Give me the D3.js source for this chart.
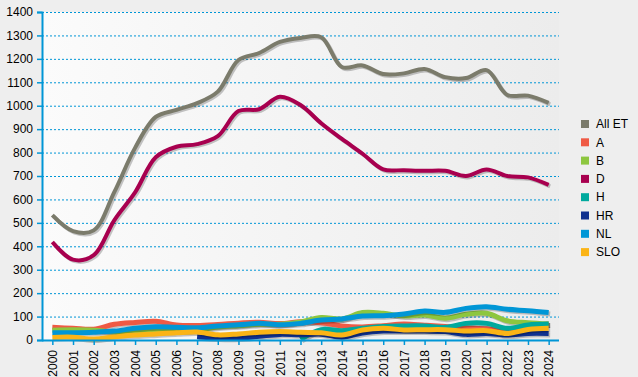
<!DOCTYPE html>
<html>
<head>
<meta charset="utf-8">
<script src="https://cdn.jsdelivr.net/npm/d3@7"></script>
<style>
  body { margin: 0; background: #eeeeee; }
  svg { display: block; font-family: "Liberation Sans", Arial, sans-serif; }
</style>
</head>
<body>
<div id="chart"></div>
<script>
const years = d3.range(2000, 2025).map(String);
const yTicks = d3.range(0, 1401, 100);

const seriesNames = ["All ET", "A", "B", "D", "H", "HR", "NL", "SLO"];
const seriesColors = ["#7b7b6b", "#ef5a45", "#8dc63f", "#a8004f", "#00a99d", "#10318f", "#0096d6", "#fbb416"];

const allET = [533, 465, 468, 632, 820, 952, 982, 1011, 1060, 1195, 1225, 1272, 1289, 1292, 1165, 1172, 1135, 1138, 1157, 1122, 1118, 1152, 1046, 1043, 1012];
const aVals = [54, 50, 46, 67, 75, 80, 64, 62, 66, 72, 76, 70, 78, 74, 60, 56, 61, 68, 63, 58, 52, 48, 40, 58, 68];
const bVals = [42, 44, 42, 34, 36, 38, 38, 43, 55, 61, 67, 67, 77, 96, 90, 117, 114, 102, 107, 93, 110, 114, 82, 74, 68];
const dVals = [418, 343, 362, 512, 630, 780, 825, 836, 870, 977, 985, 1038, 1003, 925, 858, 795, 728, 725, 722, 722, 700, 728, 700, 694, 662];
const hVals = [null, null, null, null, null, null, null, null, null, null, null, null, 3, 44, 40, 50, 58, 60, 60, 54, 71, 71, 50, 64, 68];
const hrVals = [null, null, null, null, null, null, null, 14, 8, 8, 16, 24, 22, 25, 12, 30, 38, 38, 38, 36, 24, 28, 21, 28, 28];
const nlVals = [31, 31, 33, 38, 50, 57, 54, 52, 60, 65, 71, 65, 71, 85, 90, 102, 104, 111, 124, 118, 135, 142, 131, 125, 117];
const sloVals = [11, 12, 4, 13, 21, 26, 31, 34, 22, 26, 33, 36, 33, 31, 21, 43, 50, 43, 44, 44, 38, 40, 28, 45, 50];

const seriesValues = [allET, aVals, bVals, dVals, hVals, hrVals, nlVals, sloVals];

const width = 638, height = 377;
const plotLeft = 42, plotRight = 559, plotTop = 12, plotBottom = 340;

const svg = d3.select("#chart").append("svg")
    .attr("width", width)
    .attr("height", height);

const defs = svg.append("defs");
const grad = defs.append("linearGradient").attr("id", "bg").attr("x1", "0").attr("x2", "1");
grad.append("stop").attr("offset", "0").attr("stop-color", "#fbfbfb");
grad.append("stop").attr("offset", "1").attr("stop-color", "#ececec");

svg.append("rect").attr("width", width).attr("height", height).attr("fill", "#eeeeee");
svg.append("rect")
    .attr("x", plotLeft).attr("y", plotTop)
    .attr("width", plotRight - plotLeft).attr("height", plotBottom - plotTop)
    .attr("fill", "url(#bg)");

const x = d3.scalePoint().domain(years).range([plotLeft, plotRight]).padding(0.5);
const y = d3.scaleLinear().domain([0, 1400]).range([plotBottom, plotTop]);

// grid
svg.append("g").selectAll("line")
    .data(yTicks.filter(d => d > 0))
    .enter().append("line")
    .attr("x1", plotLeft).attr("x2", plotRight)
    .attr("y1", d => y(d) + 0.5).attr("y2", d => y(d) + 0.5)
    .attr("stroke", "#0096d6")
    .attr("stroke-dasharray", "2,2");

// lines
const line = d3.line()
    .defined(d => d.v != null)
    .x(d => x(d.year))
    .y(d => y(d.v))
    .curve(d3.curveCatmullRom.alpha(0.5));

const drawOrder = [1, 2, 4, 5, 6, 7, 3, 0];
drawOrder.forEach(i => {
    const pts = years.map((yr, j) => ({year: yr, v: seriesValues[i][j]}));
    const main = i === 0 || i === 3;
    svg.append("path")
        .attr("d", line(pts))
        .attr("fill", "none")
        .attr("stroke", "rgba(0,0,0,0.22)")
        .attr("stroke-width", main ? 4 : 5)
        .attr("transform", "translate(1.5,1.5)");
    svg.append("path")
        .attr("d", line(pts))
        .attr("fill", "none")
        .attr("stroke", seriesColors[i])
        .attr("stroke-width", main ? 4 : 5)
        .attr("stroke-linejoin", "round");
});

// axes
const yAxis = svg.append("g")
    .attr("transform", `translate(${plotLeft},0)`)
    .call(d3.axisLeft(y).tickValues(yTicks).tickFormat(d3.format("d")).tickSize(5).tickPadding(4));
const xAxis = svg.append("g")
    .attr("transform", `translate(0,${plotBottom})`)
    .call(d3.axisBottom(x).tickSize(5).tickSizeOuter(0));

[yAxis, xAxis].forEach(g => {
    g.select(".domain").attr("stroke", "#0096d6").attr("stroke-width", 2);
    g.selectAll(".tick line").attr("stroke", "#0096d6").attr("stroke-width", 1.5);
    g.selectAll("text").attr("fill", "#000").style("font-size", "12px");
});
xAxis.select(".domain").attr("d", `M${plotLeft},0.5H${plotRight}`);

xAxis.selectAll("text")
    .attr("transform", "rotate(-90)")
    .attr("text-anchor", "end")
    .attr("x", -10)
    .attr("y", 0)
    .attr("dy", "0.35em");

// legend
const legend = svg.append("g").attr("transform", "translate(581,124)");
seriesNames.forEach((name, i) => {
    const row = legend.append("g").attr("transform", `translate(0,${i * 18.3})`);
    row.append("rect")
        .attr("x", 0).attr("y", -4)
        .attr("width", 8).attr("height", 8)
        .attr("fill", seriesColors[i]);
    row.append("text")
        .attr("x", 15).attr("y", 0).attr("dy", "0.35em")
        .style("font-size", "12px")
        .text(name);
});
</script>
</body>
</html>
